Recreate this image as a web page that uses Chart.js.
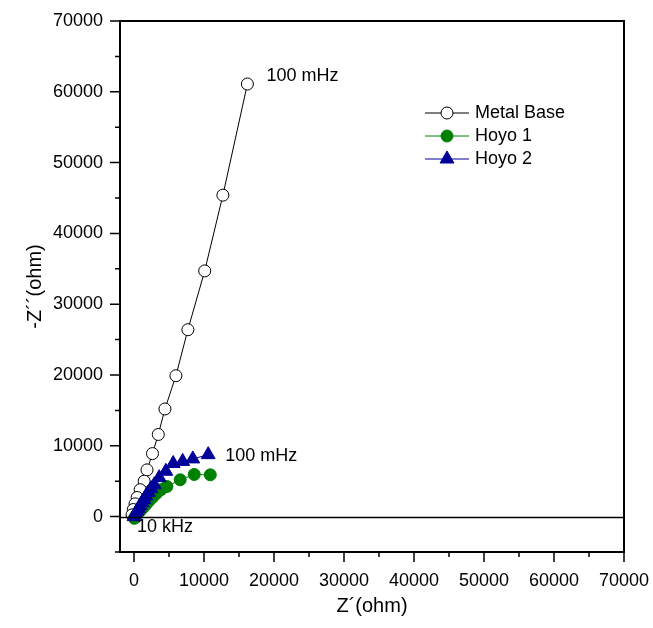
<!DOCTYPE html>
<html>
<head>
<meta charset="utf-8">
<title>Nyquist plot</title>
<script src="https://cdn.jsdelivr.net/npm/chart.js@4.4.0/dist/chart.umd.min.js"></script>
<style>
  html, body { margin: 0; padding: 0; background: #fff; }
  #wrap { width: 653px; height: 628px; }
</style>
</head>
<body>
<div id="wrap"><canvas id="nyquist" width="653" height="628"></canvas></div>
<script>
// ---------- Data (ohm) ----------
const SERIES_LABELS = ["Metal Base", "Hoyo 1", "Hoyo 2"];

const METAL_BASE_RE = [16200, 12700, 10100, 7700, 5990, 4420, 3470, 2640, 1860, 1450, 880, 450, 150, -100, -280];
const METAL_BASE_IM = [61100, 45400, 34700, 26400, 19900, 15200, 11600, 8900, 6600, 5000, 3800, 2700, 1800, 1000, 250];

const HOYO1_RE = [10900, 8600, 6600, 4700, 3850, 3200, 2650, 2150, 1700, 1300, 930, 570, 290, 60];
const HOYO1_IM = [5900, 5950, 5200, 4250, 3800, 3250, 2700, 2200, 1700, 1250, 850, 480, 130, -250];

const HOYO2_RE = [10600, 8400, 6950, 5600, 4550, 3600, 2900, 2430, 2070, 1710, 1430, 1140, 860, 640, 430, 210, 0];
const HOYO2_IM = [8750, 8150, 7800, 7500, 6400, 5500, 4500, 3950, 3400, 2900, 2400, 1980, 1550, 1130, 780, 420, 0];

const X_TICKS = [0, 5000, 10000, 15000, 20000, 25000, 30000, 35000, 40000, 45000, 50000, 55000, 60000, 65000, 70000];
const Y_TICKS = [-5000, 0, 5000, 10000, 15000, 20000, 25000, 30000, 35000, 40000, 45000, 50000, 55000, 60000, 65000, 70000];

const X_TITLE = "Z´(ohm)";
const Y_TITLE = "-Z´´(ohm)";
const LOW_FREQ_LABEL = "100 mHz";
const HIGH_FREQ_LABEL = "10 kHz";

// ---------- Style ----------
const FONT = "'Liberation Sans', Arial, sans-serif";
const COLORS = { ink: "#000000", green: "#008000", navy: "#000099" };

const toPoints = (re, im) => re.map((v, i) => ({ x: v, y: im[i] }));
const isMajor = (v) => v % 10000 === 0;

// ---------- Plugins ----------
// frame (box), zero line and major/minor ticks
const framePlugin = {
  id: "frame",
  afterDraw(chart) {
    const { ctx, chartArea: a, scales: { x, y } } = chart;
    ctx.save();
    ctx.strokeStyle = COLORS.ink;
    ctx.lineWidth = 1.5;
    const y0 = Math.round(y.getPixelForValue(0)) + 0.5;
    ctx.beginPath();
    ctx.moveTo(a.left, y0);
    ctx.lineTo(a.right, y0);
    ctx.stroke();

    ctx.lineWidth = 2;
    ctx.strokeRect(a.left, a.top, a.right - a.left, a.bottom - a.top);

    ctx.lineWidth = 1.5;
    ctx.beginPath();
    X_TICKS.forEach((v) => {
      const px = x.getPixelForValue(v);
      ctx.moveTo(px, a.bottom);
      ctx.lineTo(px, a.bottom + (isMajor(v) ? 10 : 5));
    });
    Y_TICKS.forEach((v) => {
      const py = y.getPixelForValue(v);
      ctx.moveTo(a.left, py);
      ctx.lineTo(a.left - (isMajor(v) ? 10 : 5), py);
    });
    ctx.stroke();
    ctx.restore();
  },
};

// frequency labels next to the end points
const freqLabels = {
  id: "freqLabels",
  afterDatasetsDraw(chart) {
    const { ctx, scales: { x, y } } = chart;
    const px = (re, im) => [x.getPixelForValue(re), y.getPixelForValue(im)];
    ctx.save();
    ctx.font = `18px ${FONT}`;
    ctx.fillStyle = COLORS.ink;
    ctx.textBaseline = "middle";
    let [mx, my] = px(METAL_BASE_RE[0], METAL_BASE_IM[0]);
    ctx.fillText(LOW_FREQ_LABEL, mx + 19, my - 8);
    let [hx, hy] = px(HOYO2_RE[0], HOYO2_IM[0]);
    ctx.fillText(LOW_FREQ_LABEL, hx + 17, hy + 1);
    let [ox, oy] = px(0, 0);
    ctx.fillText(HIGH_FREQ_LABEL, ox + 3, oy + 10);
    ctx.restore();
  },
};

// legend box drawn inside the plot
const legendPlugin = {
  id: "legendBox",
  afterDraw(chart) {
    const { ctx } = chart;
    const rows = [113, 136, 159];
    ctx.save();
    ctx.font = `18px ${FONT}`;
    ctx.textBaseline = "middle";
    chart.data.datasets.forEach((ds, i) => {
      const yy = rows[i];
      ctx.strokeStyle = ds.borderColor;
      ctx.lineWidth = 1;
      ctx.beginPath();
      ctx.moveTo(425, yy);
      ctx.lineTo(469, yy);
      ctx.stroke();
      ctx.fillStyle = ds.pointBackgroundColor;
      ctx.strokeStyle = ds.pointBorderColor;
      ctx.beginPath();
      if (ds.pointStyle === "triangle") {
        const r = ds.pointRadius;
        ctx.moveTo(447, yy - r);
        ctx.lineTo(447 + r * 0.866, yy + r * 0.5);
        ctx.lineTo(447 - r * 0.866, yy + r * 0.5);
        ctx.closePath();
      } else {
        ctx.arc(447, yy, ds.pointRadius, 0, Math.PI * 2);
      }
      ctx.fill();
      ctx.stroke();
      ctx.fillStyle = COLORS.ink;
      ctx.fillText(ds.label, 475, yy);
    });
    ctx.restore();
  },
};

// ---------- Chart ----------
const ctx = document.getElementById("nyquist").getContext("2d");
new Chart(ctx, {
  type: "scatter",
  data: {
    datasets: [
      {
        label: SERIES_LABELS[0],
        data: toPoints(METAL_BASE_RE, METAL_BASE_IM),
        showLine: true,
        borderColor: COLORS.ink,
        borderWidth: 1,
        pointStyle: "circle",
        pointRadius: 6,
        pointBackgroundColor: "#ffffff",
        pointBorderColor: COLORS.ink,
        pointBorderWidth: 1,
        order: 3,
      },
      {
        label: SERIES_LABELS[1],
        data: toPoints(HOYO1_RE, HOYO1_IM),
        showLine: true,
        borderColor: COLORS.green,
        borderWidth: 1,
        pointStyle: "circle",
        pointRadius: 6,
        pointBackgroundColor: COLORS.green,
        pointBorderColor: COLORS.green,
        pointBorderWidth: 1,
        order: 2,
      },
      {
        label: SERIES_LABELS[2],
        data: toPoints(HOYO2_RE, HOYO2_IM),
        showLine: true,
        borderColor: COLORS.navy,
        borderWidth: 1,
        pointStyle: "triangle",
        pointRadius: 8,
        pointBackgroundColor: COLORS.navy,
        pointBorderColor: COLORS.navy,
        pointBorderWidth: 1,
        order: 1,
      },
    ],
  },
  options: {
    responsive: false,
    animation: false,
    layout: { padding: { top: 21, right: 29, left: 0, bottom: 0 } },
    plugins: { legend: { display: false }, tooltip: { enabled: false } },
    scales: {
      x: {
        type: "linear",
        min: -2000,
        max: 70000,
        afterBuildTicks: (s) => { s.ticks = X_TICKS.map((v) => ({ value: v })); },
        afterFit: (s) => { s.height = 76; s.paddingLeft = 0; s.paddingRight = 0; },
        ticks: {
          autoSkip: false,
          maxRotation: 0,
          padding: 18,
          color: COLORS.ink,
          font: { family: FONT, size: 18 },
          callback: (v) => (isMajor(v) ? String(v) : ""),
        },
        grid: { display: true, drawOnChartArea: false, drawTicks: false },
        border: { display: false },
        title: {
          display: true,
          text: X_TITLE,
          color: COLORS.ink,
          font: { family: FONT, size: 20 },
          padding: { top: 0, bottom: 10 },
        },
      },
      y: {
        type: "linear",
        min: -5000,
        max: 70000,
        afterBuildTicks: (s) => { s.ticks = Y_TICKS.map((v) => ({ value: v })); },
        afterFit: (s) => { s.width = 120; s.paddingTop = 0; s.paddingBottom = 0; },
        ticks: {
          autoSkip: false,
          padding: 17,
          color: COLORS.ink,
          font: { family: FONT, size: 18 },
          callback: (v) => (isMajor(v) ? String(v) : ""),
        },
        grid: { display: true, drawOnChartArea: false, drawTicks: false },
        border: { display: false },
        title: {
          display: true,
          text: Y_TITLE,
          color: COLORS.ink,
          font: { family: FONT, size: 20 },
          padding: { top: 23, bottom: 0 },
        },
      },
    },
  },
  plugins: [framePlugin, freqLabels, legendPlugin],
});
</script>
</body>
</html>
